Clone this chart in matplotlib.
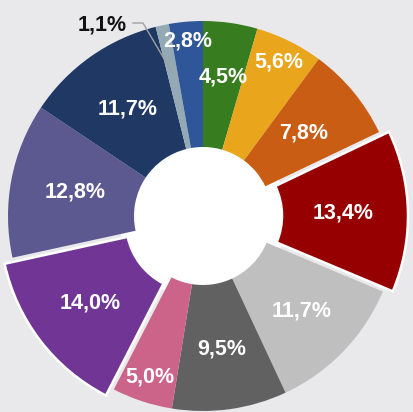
import numpy as np
import matplotlib
matplotlib.use('Agg')
import matplotlib.pyplot as plt
from matplotlib.patches import Circle

# ---- data ----
labels = ['4,5%', '5,6%', '7,8%', '13,4%', '11,7%', '9,5%', '5,0%',
          '14,0%', '12,8%', '11,7%', '1,1%', '2,8%']
values = [4.5, 5.6, 7.8, 13.4, 11.7, 9.5, 5.0, 14.0, 12.8, 11.7, 1.1, 2.8]
colors = ['#377c1f', '#e9a51b', '#c95d14', '#970000', '#bfbfbf', '#616161',
          '#cc6388', '#703595', '#5c5990', '#1f3864', '#93aab5', '#2f5698']
exploded = [0, 0, 0, 1, 0, 0, 0, 1, 0, 0, 0, 0]

# ---- style / layout ----
label_r = [0.72, 0.88, 0.67, 0.67, 0.70, 0.69, 0.87, 0.68, 0.67, 0.67, None, 0.90]
W, H = 414, 412
cx, cy = 203, H - 216
R = 195
r_in = 69
expl_px = 10

fig = plt.figure(figsize=(W / 100, H / 100), dpi=100)
fig.patch.set_facecolor('#e9e9eb')
ax = fig.add_axes([0, 0, 1, 1])
ax.set_facecolor('#e9e9eb')

ax.add_patch(Circle((cx, cy), r_in + 14, color='white', zorder=0.5))

wedges, _ = ax.pie(values, radius=R, center=(cx, cy), startangle=90,
                   counterclock=False, colors=colors,
                   explode=[e * expl_px for e in exploded],
                   wedgeprops=dict(width=R - r_in, linewidth=0), frame=True)
for w, e in zip(wedges, exploded):
    w.set_zorder(2)
    if e:
        w.set_edgecolor('white')
        w.set_linewidth(1.8)

ax.set_xlim(0, W)
ax.set_ylim(0, H)
ax.set_aspect('equal')
ax.axis('off')

total = sum(values)
cum = np.cumsum([0] + values[:-1]) / total
fr = np.array(values) / total
font = dict(family=['Liberation Sans', 'DejaVu Sans'], weight='bold', size=15.5)
for i, lab in enumerate(labels):
    th = np.deg2rad(90 - 360 * (cum[i] + fr[i] / 2))
    ox = exploded[i] * expl_px * np.cos(th)
    oy = exploded[i] * expl_px * np.sin(th)
    if label_r[i] is None:
        # outside label with leader line
        px = cx + 0.75 * R * np.cos(th)
        py = cy + 0.75 * R * np.sin(th)
        ex, ey = 143, H - 23
        ax.plot([px, ex, ex - 10], [py, ey, ey], color='#a0a0a0', lw=1.0, zorder=3)
        ax.text(ex - 41, H - 25, lab, color='#111111', ha='center', va='center',
                zorder=4, **font)
        continue
    x = cx + ox + label_r[i] * R * np.cos(th)
    y = cy + oy + label_r[i] * R * np.sin(th)
    ax.text(x, y, lab, color='white', ha='center', va='center', zorder=4, **font)

fig.savefig('out.png', dpi=100, facecolor=fig.get_facecolor())
